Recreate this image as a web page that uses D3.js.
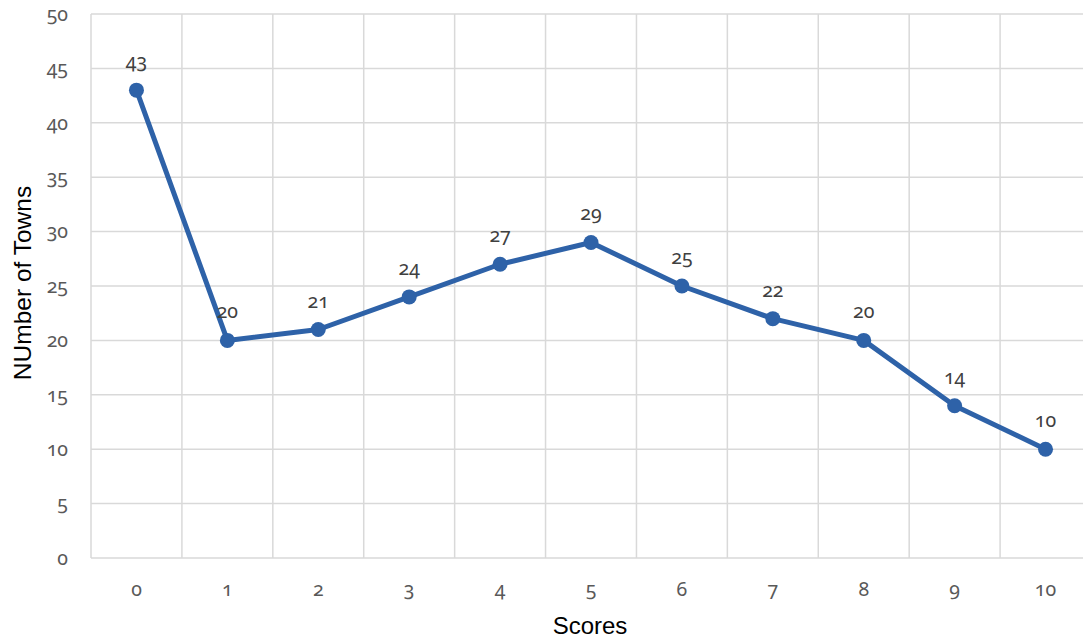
<!DOCTYPE html>
<html><head><meta charset="utf-8">
<script src="https://cdn.jsdelivr.net/npm/d3@7"></script>
<style>
body{margin:0;background:#fff;}
.num{font-family:"Noto Sans",sans-serif;font-variant-numeric:oldstyle-nums;}
</style></head>
<body><svg id="chart" width="1083" height="641"></svg>
<script>
const categories = ["0","1","2","3","4","5","6","7","8","9","10"];
const values = [43,20,21,24,27,29,25,22,20,14,10];
const yTicks = [0,5,10,15,20,25,30,35,40,45,50];

const svg = d3.select("#chart");
const m = {left:91, top:14, right:1091, bottom:558};
const x = d3.scaleBand().domain(categories).range([m.left, m.right]).padding(0);
const y = d3.scaleLinear().domain([0,50]).range([m.bottom, m.top]);

const grid = svg.append("g");
grid.selectAll(".h").data(yTicks).enter().append("line")
  .attr("x1", m.left).attr("x2", m.right)
  .attr("y1", d=>y(d)).attr("y2", d=>y(d))
  .attr("stroke","#d9d9d9").attr("stroke-width",1.5);
const vlines = categories.map(c=>x(c)).concat([m.right]);
grid.selectAll(".v").data(vlines).enter().append("line")
  .attr("x1", d=>d).attr("x2", d=>d)
  .attr("y1", m.top).attr("y2", m.bottom)
  .attr("stroke","#d9d9d9").attr("stroke-width",1.5);

const yAxis = d3.axisLeft(y).tickValues(yTicks).tickSize(0).tickPadding(0);
const ya = svg.append("g").attr("transform",`translate(${m.left-23},0)`).call(yAxis);
ya.select(".domain").remove();
ya.selectAll("text").attr("class","num").attr("font-size",19.5).attr("fill","#595959");

const xAxis = d3.axisBottom(x).tickSize(0).tickPadding(0);
const xa = svg.append("g").attr("transform",`translate(0,${m.bottom+24})`).call(xAxis);
xa.select(".domain").remove();
xa.selectAll("text").attr("class","num").attr("font-size",19.5).attr("fill","#595959");

const cx = c => x(c) + x.bandwidth()/2;
const line = d3.line().x((d,i)=>cx(categories[i])).y(d=>y(d));
svg.append("path").datum(values).attr("d", line)
  .attr("fill","none").attr("stroke","#2e62a8").attr("stroke-width",5).attr("stroke-linejoin","round");
svg.selectAll(".pt").data(values).enter().append("circle")
  .attr("cx",(d,i)=>cx(categories[i])).attr("cy",d=>y(d)).attr("r",7.5).attr("fill","#2e62a8");
svg.selectAll(".lbl").data(values).enter().append("text")
  .attr("class","num")
  .attr("x",(d,i)=>cx(categories[i])).attr("y",d=>y(d)-22)
  .attr("text-anchor","middle").attr("font-size",19.5).attr("fill","#404040")
  .text(d=>d);

svg.append("text").attr("x",590).attr("y",634).attr("text-anchor","middle")
  .attr("font-family","Liberation Sans, Arial, sans-serif").attr("font-size",24).attr("fill","#000").text("Scores");
svg.append("text").attr("transform","translate(31,283) rotate(-90)").attr("text-anchor","middle")
  .attr("font-family","Liberation Sans, Arial, sans-serif").attr("font-size",24.5).attr("fill","#000").text("NUmber of Towns");
</script></body></html>
